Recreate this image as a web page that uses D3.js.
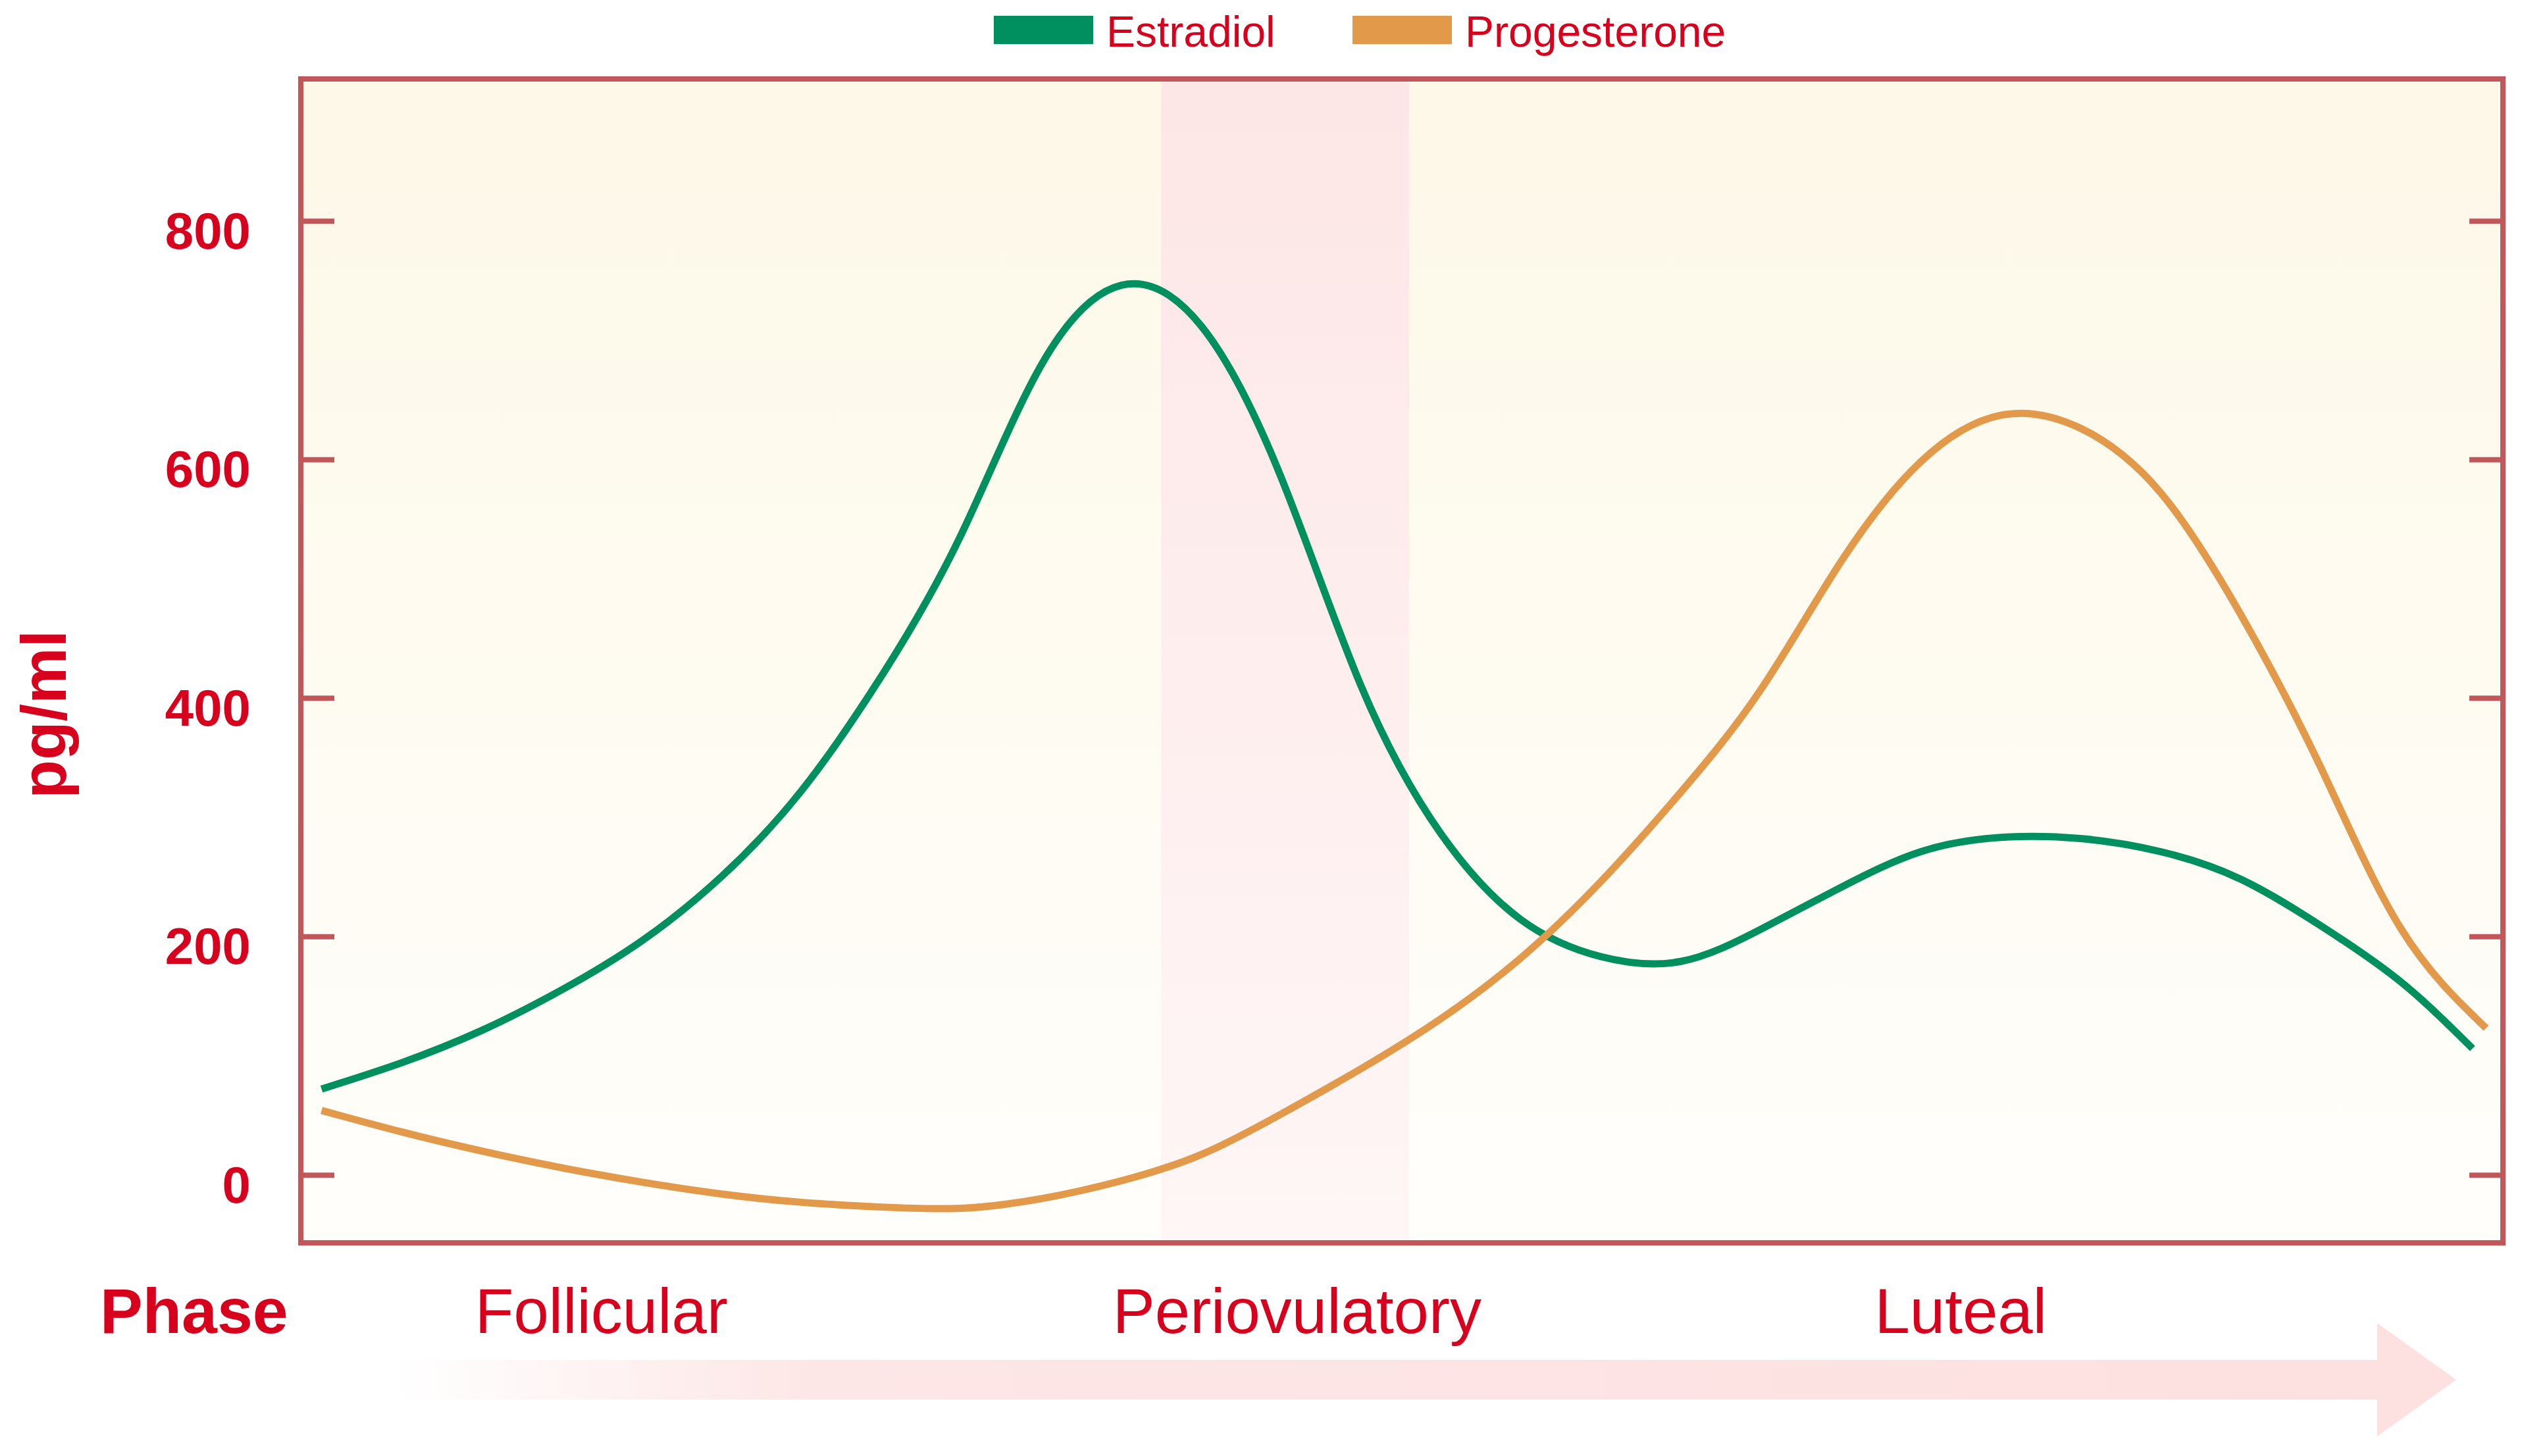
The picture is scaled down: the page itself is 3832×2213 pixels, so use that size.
<!DOCTYPE html>
<html lang="en">
  <head>
    <meta charset="utf-8">
    <title>Estradiol and progesterone</title>
    <script src="https://d3js.org/d3.v7.min.js"></script>
    <style>
      body { margin: 0; background: white; }
      text { font-family: "Liberation Sans", Arial, sans-serif; fill: #d7001d; }
    </style>
  </head>
  <body>
    <script>
      // cycle day -> pg/ml (one reading per day)
      const estradiolDays = [1, 2, 3, 4, 5, 6, 7, 8, 9, 10, 11, 12, 13, 14,
                             15, 16, 17, 18, 19, 20, 21, 22, 23, 24, 25, 26, 27, 27.9];
      const estradiolValues = [72, 94, 121, 155, 196, 250, 322, 418, 537, 679, 746, 712, 585, 410,
                               286, 214, 183, 179, 206, 241, 271, 283, 282, 271, 248, 209, 162, 106];

      const progesteroneDays = [1, 2, 3, 4, 5, 6, 7, 8, 9, 10, 11, 12, 13, 14,
                                15, 16, 17, 18, 19, 20, 21, 22, 23, 24, 25, 26, 27, 28.07];
      const progesteroneValues = [54, 36, 20, 6, -6, -16, -23, -27, -28, -20, -5, 17, 51, 89,
                                  131, 182, 246, 321, 407, 514, 598, 637, 626, 572, 470, 342, 207, 123];

      const yTicks = [0, 200, 400, 600, 800];
      const periovulatoryWindow = [11.5, 14.6];
      const phaseNames = ["Follicular", "Periovulatory", "Luteal"];
      const phaseCenters = [4.5, 13.2, 21.5];
      const seriesNames = ["Estradiol", "Progesterone"];

      const w = 3832;
      const h = 2213;
      const plot = {left: 457, right: 3803, top: 120, bottom: 1889};
      const red = "#d7001d";
      const frameColor = "#c1565b";
      const colors = ["#00905f", "#e3994a"];

      const xScale = d3.scaleLinear()
                       .domain([0.74, 28.28])
                       .range([plot.left, plot.right]);

      const yScale = d3.scaleLinear()
                       .domain([-57, 919])
                       .range([plot.bottom, plot.top]);

      const svg = d3.select("body")
                    .append("svg")
                    .attr("width", w)
                    .attr("height", h);

      const defs = svg.append("defs");

      const bg = defs.append("linearGradient")
                     .attr("id", "bg").attr("x1", 0).attr("y1", 0).attr("x2", 0).attr("y2", 1);
      bg.append("stop").attr("offset", 0).attr("stop-color", "#fdf8e7");
      bg.append("stop").attr("offset", 1).attr("stop-color", "#fffefb");

      const band = defs.append("linearGradient")
                       .attr("id", "band").attr("x1", 0).attr("y1", 0).attr("x2", 0).attr("y2", 1);
      band.append("stop").attr("offset", 0).attr("stop-color", "#fde6e6");
      band.append("stop").attr("offset", 1).attr("stop-color", "#fff6f6");

      const arrowGrad = defs.append("linearGradient")
                            .attr("id", "arrowGrad").attr("x1", 0).attr("y1", 0).attr("x2", 1).attr("y2", 0);
      arrowGrad.append("stop").attr("offset", 0).attr("stop-color", "#fde0e0").attr("stop-opacity", 0);
      arrowGrad.append("stop").attr("offset", 0.2).attr("stop-color", "#fde0e0").attr("stop-opacity", 0.8);
      arrowGrad.append("stop").attr("offset", 1).attr("stop-color", "#fde0e0").attr("stop-opacity", 1);

      // plot background
      svg.append("rect")
         .attr("x", plot.left)
         .attr("y", plot.top)
         .attr("width", plot.right - plot.left)
         .attr("height", plot.bottom - plot.top)
         .attr("fill", "url(#bg)");

      // periovulatory window
      svg.append("rect")
         .attr("x", xScale(periovulatoryWindow[0]))
         .attr("y", plot.top)
         .attr("width", xScale(periovulatoryWindow[1]) - xScale(periovulatoryWindow[0]))
         .attr("height", plot.bottom - plot.top)
         .attr("fill", "url(#band)");

      // axes (ticks pointing inwards)
      const yAxisLeft = d3.axisLeft(yScale)
                          .tickValues(yTicks)
                          .tickSize(-51)
                          .tickPadding(76);

      const gl = svg.append("g")
                    .attr("transform", `translate(${plot.left}, 0)`)
                    .call(yAxisLeft);
      gl.select(".domain").remove();
      gl.selectAll(".tick line").attr("stroke", frameColor).attr("stroke-width", 8);
      gl.selectAll(".tick text")
        .attr("dy", "0.53em")
        .attr("fill", red)
        .style("font-size", "78px")
        .style("font-weight", "bold");

      const yAxisRight = d3.axisRight(yScale)
                           .tickValues(yTicks)
                           .tickSize(-51)
                           .tickFormat("");

      const gr = svg.append("g")
                    .attr("transform", `translate(${plot.right}, 0)`)
                    .call(yAxisRight);
      gr.select(".domain").remove();
      gr.selectAll(".tick line").attr("stroke", frameColor).attr("stroke-width", 8);

      // curves (evenly spaced readings, so the natural spline stays smooth)
      const line = d3.line()
                     .x(d => xScale(d[0]))
                     .y(d => yScale(d[1]))
                     .curve(d3.curveNatural);

      const series = [
        d3.zip(estradiolDays, estradiolValues),
        d3.zip(progesteroneDays, progesteroneValues)
      ];

      svg.selectAll(".curve")
         .data(series)
         .enter().append("path")
         .attr("class", "curve")
         .attr("d", line)
         .attr("fill", "none")
         .attr("stroke", (d, i) => colors[i])
         .attr("stroke-width", 11);

      // frame
      svg.append("rect")
         .attr("x", plot.left)
         .attr("y", plot.top)
         .attr("width", plot.right - plot.left)
         .attr("height", plot.bottom - plot.top)
         .attr("fill", "none")
         .attr("stroke", frameColor)
         .attr("stroke-width", 8);

      // y label
      svg.append("text")
         .attr("transform", `translate(100, ${(yScale(0) + yScale(800)) / 2 + 25}) rotate(-90)`)
         .attr("text-anchor", "middle")
         .style("font-size", "96px")
         .style("font-weight", "bold")
         .text("pg/ml");

      // legend
      const legendX = [1510, 2055];
      const legend = svg.selectAll(".legend")
                        .data(seriesNames)
                        .enter().append("g")
                        .attr("class", "legend")
                        .attr("transform", (d, i) => `translate(${legendX[i]}, 24)`);
      legend.append("rect")
            .attr("width", 151)
            .attr("height", 43)
            .attr("fill", (d, i) => colors[i]);
      legend.append("text")
            .attr("x", 171)
            .attr("y", 47)
            .style("font-size", "66px")
            .text(d => d);

      // phase arrow
      const arrowY = 2097;
      svg.append("path")
         .attr("d", `M600,${arrowY - 30} L3612,${arrowY - 30} L3612,${arrowY - 86} L3732,${arrowY}
                     L3612,${arrowY + 86} L3612,${arrowY + 30} L600,${arrowY + 30} Z`)
         .attr("fill", "url(#arrowGrad)");

      // phase labels
      svg.append("text")
         .attr("x", 152)
         .attr("y", 2026)
         .style("font-size", "97px")
         .style("font-weight", "bold")
         .text("Phase");

      svg.selectAll(".phase")
         .data(phaseNames)
         .enter().append("text")
         .attr("class", "phase")
         .attr("x", (d, i) => xScale(phaseCenters[i]))
         .attr("y", 2026)
         .attr("text-anchor", "middle")
         .style("font-size", "96px")
         .text(d => d);
    </script>
  </body>
</html>
